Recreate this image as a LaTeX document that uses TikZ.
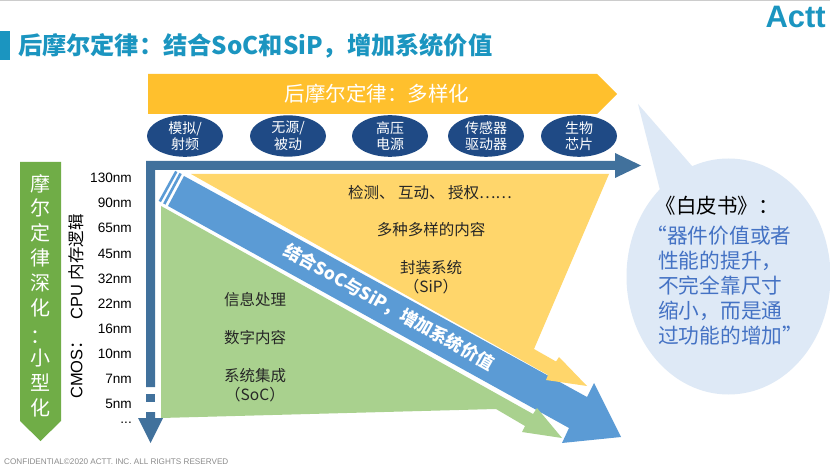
\documentclass[tikz,border=0pt]{standalone}
\usepackage{fontspec}
\setmainfont{Liberation Sans}
\newfontfamily\cjk{Noto Sans CJK SC}
\newcommand{\fs}[1]{\fontsize{#1}{#1}\selectfont}
\definecolor{titleblue}{HTML}{1B95C0}
\definecolor{axisblue}{HTML}{41719C}
\definecolor{bandblue}{HTML}{5B9BD5}
\definecolor{navy}{HTML}{1F4A85}
\definecolor{bannerorange}{HTML}{FFC02D}
\definecolor{softyellow}{HTML}{FFD66B}
\definecolor{softgreen}{HTML}{A9D18E}
\definecolor{leafgreen}{HTML}{70AD47}
\definecolor{bubble}{HTML}{DEE9F6}
\definecolor{quoteblue}{HTML}{4472C4}
\tikzset{
  fieldoval/.style={ellipse, fill=navy, minimum width=76pt, minimum height=38pt, inner sep=0pt, text=white, align=center, font=\cjk\fontsize{14}{16.5}\selectfont},
  nmlabel/.style={anchor=east, inner sep=0pt, font=\fs{13.6}},
  bodytext/.style={inner sep=0pt, text=black!85, align=center, font=\cjk\fontsize{15.5}{19}\selectfont}
}
\usetikzlibrary{shapes.geometric}
\begin{document}
\begin{tikzpicture}[x=1pt, y=-1pt]
	\useasboundingbox (0,0) rectangle (830,470);
	\fill[white] (0,0) rectangle (830,470);
	\fill[black!20] (0,0) rectangle (830,1);

	% 1. 标题与标志
	\fill[titleblue] (0,31) rectangle (10,60);
	\node[anchor=west, inner sep=0pt, text=titleblue, font=\cjk\bfseries\fs{24.2}] (title) at (18,46) {后摩尔定律：结合SoC和SiP，增加系统价值};
	\node[anchor=east, inner sep=0pt, text=titleblue, font=\bfseries\fs{31}] (logo) at (826,17) {Actt};

	% 2. 后摩尔定律横幅与椭圆
	\fill[bannerorange] (148,74) -- (597,74) -- (617,94) -- (597,114) -- (148,114) -- cycle;
	\node[text=white, inner sep=0pt, font=\cjk\fs{20.5}] (banner) at (377,94) {后摩尔定律：多样化};
	\node[fieldoval] (analog) at (185,136) {模拟/\\射频};
	\node[fieldoval] (passive) at (288,136) {无源/\\被动};
	\node[fieldoval] (power) at (390,136) {高压\\电源};
	\node[fieldoval] (sensor) at (486,136) {传感器\\驱动器};
	\node[fieldoval] (biochip) at (579,136) {生物\\芯片};

	% 3. 坐标轴
	\fill[axisblue] (146,161) -- (615,161) -- (615,153) -- (641,165.5) -- (615,178) -- (615,170) -- (155,170) -- (155,387) -- (146,387) -- cycle;
	\fill[axisblue] (146,394) rectangle (155,402);
	\fill[axisblue] (146,412) -- (155,412) -- (155,418) -- (163,418) -- (150.5,443) -- (138,418) -- (146,418) -- cycle;

	% 4. 左侧摩尔定律与制程标签
	\fill[leafgreen] (20,162) -- (61,162) -- (61,421) -- (40.5,441) -- (20,421) -- cycle;
	\foreach \ch/\ypos [count=\i] in {摩/184, 尔/208, 定/233, 律/258, 深/283, 化/308, ：/337, 小/358, 型/383, 化/408}
		\node[text=white, inner sep=0pt, font=\cjk\fs{20}] (moore\i) at (40.5,\ypos) {\ch};
	\node[rotate=90, anchor=west, inner sep=0pt, font=\fs{16.5}] (cmos) at (76,399) {CMOS{\cjk ：}\hspace{13pt}CPU {\cjk 内存逻辑}};
	\foreach \lab/\ypos [count=\i] in {130nm/178, 90nm/203, 65nm/228, 45nm/254, 32nm/279, 22nm/304, 16nm/329, 10nm/354, 7nm/379, 5nm/404}
		\node[nmlabel] (nm\i) at (132,\ypos) {\lab};
	\node[nmlabel] (nmmore) at (132,423) {...};

	% 5. 蓝色主箭头 (最先画，黄绿两块压在上面)
	\fill[bandblue] (184,176) -- (587,397) -- (594,383) -- (621,437) -- (562,443) -- (569,428) -- (168,206) -- cycle;
	\draw[bandblue, line width=2.6pt] (159.8,201.5) -- (176.3,171.5);
	\draw[bandblue, line width=2.6pt] (164.3,204) -- (180.6,173.5);
	\node[rotate=-29.3, text=white, inner sep=0pt, font=\cjk\bfseries\fs{17.5}] (merge) at (389,307) {结合SoC与SiP，增加系统价值};

	% 6. 黄色与绿色区域
	\fill[softyellow] (191,174) -- (609,174) -- (534,349) -- (556,361.5) -- (559,357) -- (587,386) -- (546,380) -- (548,375) -- cycle;
	\fill[softgreen] (161,206) -- (533,414) -- (537,408) -- (562,438) -- (522,432) -- (525,426) -- (496,409) -- (161,418) -- cycle;

	\node[bodytext] (detect) at (430,193) {检测、 互动、 授权……};
	\node[bodytext] (variety) at (431,230) {多种多样的内容};
	\node[bodytext] (sip) at (431,277) {封装系统\\（SiP）};
	\node[bodytext] (infoproc) at (255,300) {信息处理};
	\node[bodytext] (digital) at (255,338) {数字内容};
	\node[bodytext] (soc) at (255,385) {系统集成\\（SoC）};

	% 7. 白皮书气泡
	\fill[bubble] (728.5,276.5) ellipse (102 and 118);
	\fill[bubble] (638,104) -- (692,166) -- (700,240) -- (660,190) -- cycle;
	\node[inner sep=0pt, font=\cjk\fs{20.5}] (paper) at (717,206) {《白皮书》：};
	\node[anchor=north west, inner sep=0pt, text=quoteblue, align=left, font=\cjk\fontsize{20.7}{25}\selectfont] (quote) at (658,226) {\makebox[9pt][r]{“}器件价值或者\\性能的提升，\\不完全靠尺寸\\缩小，而是通\\过功能的增加\rlap{”}};

	% 8. 页脚
	\node[anchor=west, inner sep=0pt, text=black!45, font=\fs{8.15}] (footer) at (4,462) {CONFIDENTIAL©2020 ACTT. INC. ALL RIGHTS RESERVED};
\end{tikzpicture}
\end{document}
